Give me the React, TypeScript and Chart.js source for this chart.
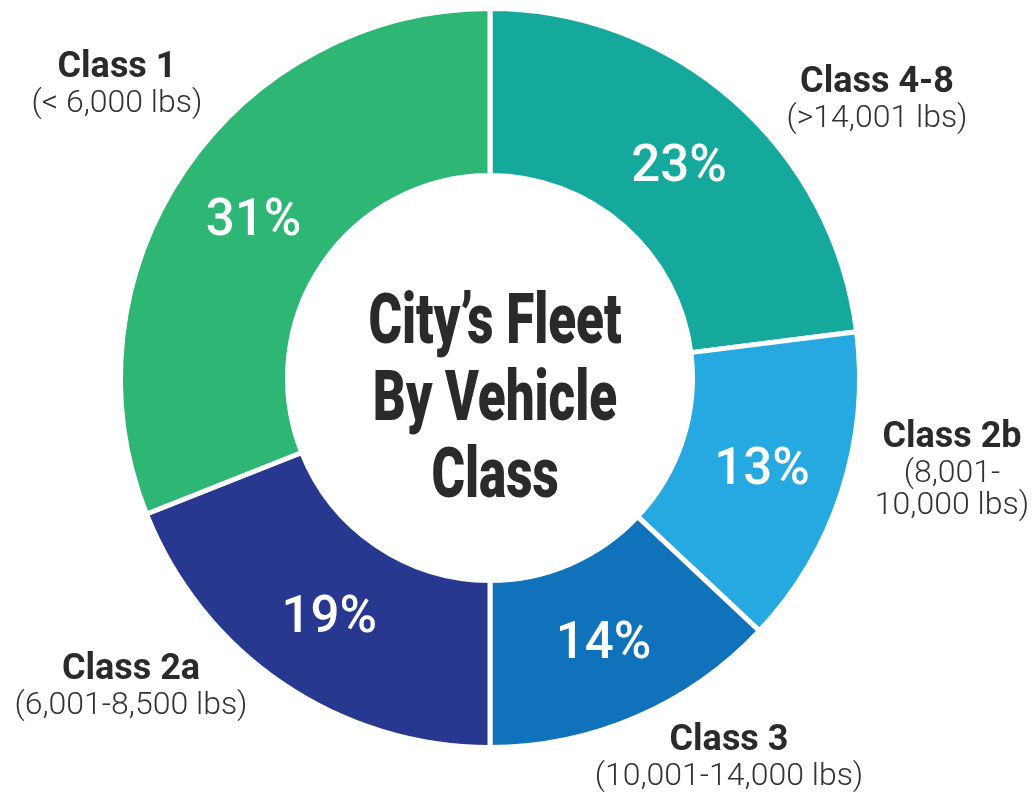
import React, { useEffect, useRef } from "react";
import { Chart, registerables } from "chart.js";

Chart.register(...registerables);

// ---- data ----
const categories = ["Class 4-8", "Class 2b", "Class 3", "Class 2a", "Class 1"];
const weightRanges = [
  ["(>14,001 lbs)"],
  ["(8,001-", "10,000 lbs)"],
  ["(10,001-14,000 lbs)"],
  ["(6,001-8,500 lbs)"],
  ["(< 6,000 lbs)"],
];
// slice sizes as drawn in the picture (arc extents)
const sliceShares = [23, 14, 13, 19, 31];
// percentages as printed on the slices
const shareLabels = ["23%", "13%", "14%", "19%", "31%"];
const colors = ["#14a99c", "#26a9e0", "#1072bb", "#283890", "#2db674"];
const centerTitle = ["City’s Fleet", "By Vehicle", "Class"];

// ---- layout of outside labels (offset of title baseline from the chart centre) ----
const labelOffsets = [
  [387, -286],
  [462, 69],
  [239, 372],
  [-359, 301],
  [-373, -301],
];

const FONT = "Roboto, 'Noto Sans', sans-serif";

const labelsPlugin = {
  id: "donutLabels",
  afterDraw(chart: any) {
    const ctx: CanvasRenderingContext2D = chart.ctx;
    const meta = chart.getDatasetMeta(0);
    const first = meta.data[0];
    const cx = first.x;
    const cy = first.y;
    ctx.save();
    // percentage labels
    ctx.fillStyle = "#ffffff";
    ctx.font = `500 51px ${FONT}`;
    ctx.textAlign = "center";
    ctx.textBaseline = "middle";
    meta.data.forEach((arc: any, i: number) => {
      const p = arc.getCenterPoint();
      ctx.fillText(shareLabels[i], p.x, p.y + 5);
    });
    // outside labels
    ctx.textBaseline = "alphabetic";
    categories.forEach((name, i) => {
      const x = cx + labelOffsets[i][0];
      let y = cy + labelOffsets[i][1];
      ctx.fillStyle = "#2a2a2a";
      ctx.font = `700 36px ${FONT}`;
      ctx.fillText(name, x, y);
      ctx.font = `300 32px ${FONT}`;
      ctx.fillStyle = "#333333";
      weightRanges[i].forEach((line, j) => {
        y += j === 0 ? 35 : 32;
        ctx.fillText(line, x, y);
      });
    });
    // centre title (condensed heavy)
    ctx.fillStyle = "#2a2a2a";
    ctx.font = `900 71px ${FONT}`;
    const w0 = ctx.measureText(centerTitle[0]).width;
    const sx = 253 / w0;
    centerTitle.forEach((line, i) => {
      const y = cy - 35 + i * 77;
      ctx.save();
      ctx.translate(cx + 5, y);
      ctx.scale(sx, 1);
      ctx.fillText(line, 0, 0);
      ctx.restore();
    });
    ctx.restore();
  },
};

export default function App() {
  const ref = useRef<HTMLCanvasElement | null>(null);
  useEffect(() => {
    document.body.style.margin = "0";
    const chart = new Chart(ref.current as HTMLCanvasElement, {
      type: "doughnut",
      data: {
        labels: categories,
        datasets: [
          {
            data: sliceShares,
            backgroundColor: colors,
            borderColor: "#ffffff",
            borderWidth: 5,
            hoverOffset: 0,
          },
        ],
      },
      options: {
        responsive: false,
        animation: false,
        cutout: "54.8%",
        layout: { padding: { left: 118, right: 172, top: 6, bottom: 45 } },
        plugins: {
          legend: { display: false },
          tooltip: { enabled: false },
          title: { display: false },
        },
      },
      plugins: [labelsPlugin],
    });
    return () => chart.destroy();
  }, []);
  return (
    <div style={{ position: "fixed", left: 0, top: 0, width: 1034, height: 795, background: "#fff" }}>
      <canvas ref={ref} width={1034} height={795} />
    </div>
  );
}
